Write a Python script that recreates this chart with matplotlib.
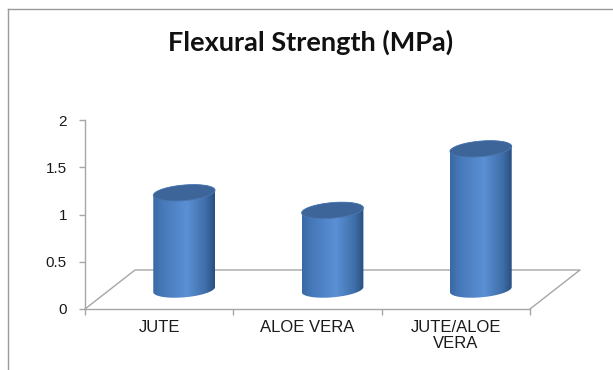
import numpy as np
import matplotlib.pyplot as plt
from matplotlib.patches import Polygon
from matplotlib.lines import Line2D
from matplotlib.colors import LinearSegmentedColormap

# data
categories = ["JUTE", "ALOE VERA", "JUTE/ALOE\nVERA"]
strength = [1.1, 0.9, 1.6]
y_ticks = [0, 0.5, 1, 1.5, 2]
y_tick_labels = ["0", "0.5", "1", "1.5", "2"]

# 3d look (pixels)
depth_px = np.array([50.0, 39.0])   # floor depth offset
bar_depth = 0.5                     # cylinders sit half way back
persp = 0.14                        # shrink of value scale with depth
radius_px = 31.0
ell_b_px = 7.8
tilt = np.deg2rad(5)

grey = "#a6a6a6"
body_cmap = LinearSegmentedColormap.from_list(
    "cyl", [(0, "#3a68a3"), (0.15, "#4678b9"), (0.55, "#5b90d5"),
            (0.85, "#3f6ea9"), (1, "#2a4f80")])

fig = plt.figure(figsize=(6.13, 3.70), dpi=100)
ax = fig.add_axes([85 / 613, 61 / 370, 445 / 613, 189 / 370])
n = len(categories)
ax.set_xlim(0, n)
ax.set_ylim(0, 2)

to_px = ax.transData.transform
to_data = ax.transData.inverted().transform
unit_px = to_px((0, 1))[1] - to_px((0, 0))[1]

# floor
f0 = to_px((0, 0))
f1 = to_px((n, 0))
floor = np.array([f0, f0 + depth_px, f1 + depth_px, f1])
fd = to_data(floor)
ax.plot(fd[:, 0], fd[:, 1], color=grey, lw=1, clip_on=False, zorder=1)


def ellipse_pts(c, t):
    x = radius_px * np.cos(t)
    y = ell_b_px * np.sin(t)
    xr = x * np.cos(tilt) - y * np.sin(tilt)
    yr = x * np.sin(tilt) + y * np.cos(tilt)
    return np.column_stack([c[0] + xr, c[1] + yr])


for i, v in enumerate(strength):
    base = to_px((i + 0.5, 0)) + depth_px * bar_depth
    top = base + np.array([0, v * unit_px * (1 - persp * bar_depth)])
    lower = ellipse_pts(base, np.linspace(np.pi, 2 * np.pi, 60))
    upper = ellipse_pts(top, np.linspace(0, np.pi, 60))
    body = to_data(np.vstack([lower, upper]))
    patch = Polygon(body, closed=True, facecolor="none", edgecolor="none", zorder=3)
    ax.add_patch(patch)
    x0, x1 = body[:, 0].min(), body[:, 0].max()
    y0, y1 = body[:, 1].min(), body[:, 1].max()
    grad = np.linspace(0, 1, 256).reshape(1, -1)
    im = ax.imshow(grad, cmap=body_cmap, extent=[x0, x1, y0, y1],
                   aspect="auto", zorder=3, interpolation="bilinear")
    im.set_clip_path(patch)
    cap = to_data(ellipse_pts(top, np.linspace(0, 2 * np.pi, 120)))
    ax.add_patch(Polygon(cap, closed=True, facecolor="#3d6599",
                         edgecolor="#4a78b2", lw=0.6, zorder=4))

ax.set_xlim(0, n)
ax.set_ylim(0, 2)

# axes styling
for s in ["top", "right"]:
    ax.spines[s].set_visible(False)
for s in ["left", "bottom"]:
    ax.spines[s].set_color(grey)
    ax.spines[s].set_linewidth(1)

ax.set_yticks(y_ticks)
ax.set_yticklabels(y_tick_labels)
ax.tick_params(axis="y", length=4, width=1, color=grey, pad=9,
               labelsize=11, labelcolor="#1a1a1a")
ax.set_xticks(np.arange(n + 1))
ax.set_xticklabels([])
ax.tick_params(axis="x", which="major", length=4, width=1, color=grey)
ax.set_xticks(np.arange(n) + 0.5, minor=True)
ax.set_xticklabels(categories, minor=True, linespacing=1.05)
ax.tick_params(axis="x", which="minor", length=0, pad=8,
               labelsize=12, labelcolor="#1a1a1a")
for lab in ax.get_yticklabels() + ax.get_xticklabels(minor=True):
    lab.set_fontfamily("Liberation Sans")

fig.text(311 / 613, 1 - 51 / 370, "Flexural Strength (MPa)", ha="center",
         va="baseline", fontfamily="Lato", fontweight="bold", fontsize=19.5,
         color="#111111")

# chart frame
fig.add_artist(Line2D([8 / 613, 8 / 613], [0, 1 - 9 / 370], color="#9a9a9a", lw=1))
fig.add_artist(Line2D([8 / 613, 1], [1 - 9 / 370, 1 - 9 / 370], color="#9a9a9a", lw=1))

fig.savefig("out.png", dpi=100)
